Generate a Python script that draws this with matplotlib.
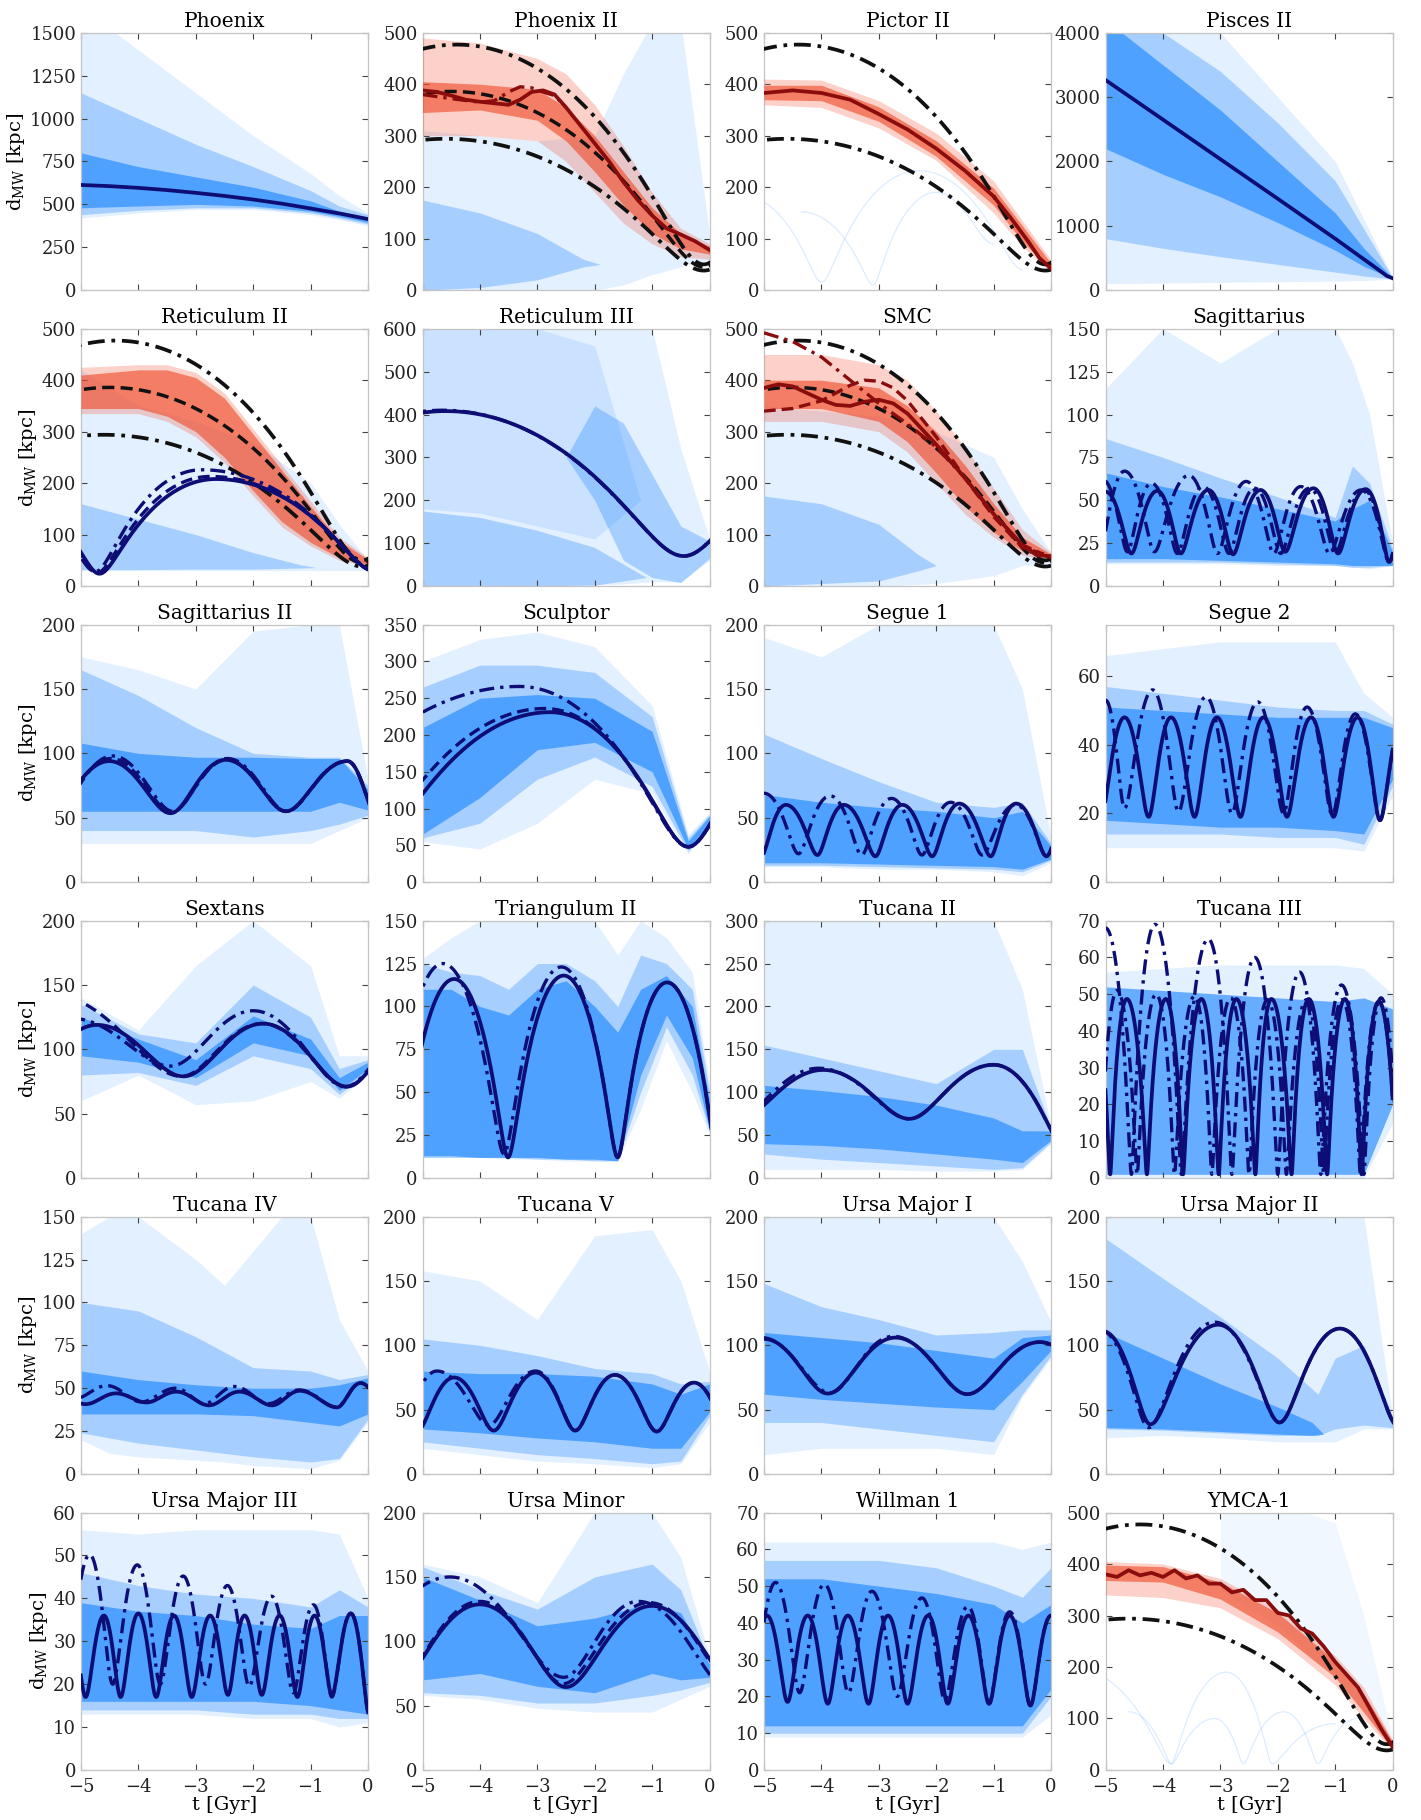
import numpy as np
import matplotlib
matplotlib.use("Agg")
import matplotlib.pyplot as plt

plt.rcParams.update({
    "font.family": ["DejaVu Serif"],
    "mathtext.fontset": "dejavuserif",
    "axes.unicode_minus": True,
})

NAVY = "#0d0d75"
BLUE = "#1a85ff"
RED = "#f04a28"
DRED = "#8a0c0c"
BLACK = "#111111"

BT = [-5, -4, -3, -2, -1, -0.5, 0]

# ---------------- shared LMC-like reference orbits (turning points: t [Gyr], d [kpc]) -------------
LMC_HI = [(-8.7, 50), (-4.4, 477), (-0.1, 50), (4.0, 470)]
LMC_LO = [(-9.0, 38), (-4.6, 294), (-0.1, 38), (4.0, 290)]
LMC_MID = [(-8.9, 45), (-4.5, 386), (-0.1, 45), (4.0, 380)]

# ---------------- Phoenix ----------------
PHX_T = [-5, -4.5, -4, -3.5, -3, -2.5, -2, -1.5, -1, -0.5, 0]
PHX_D = [613, 606, 596, 583, 567, 549, 528, 504, 476, 447, 414]
PHX_BANDS = [("b0", BT, [420, 450, 470, 470, 440, 410, 375], [1650, 1400, 1150, 900, 680, 550, 450]),
             ("b1", BT, [440, 465, 480, 480, 450, 420, 385], [1150, 1000, 850, 720, 580, 490, 440]),
             ("b2", BT, [480, 490, 500, 490, 460, 430, 395], [800, 720, 660, 600, 520, 460, 425])]

# ---------------- Phoenix II ----------------
PHX2_RT = [-5, -4, -3, -2.5, -2, -1.5, -1, -0.5, 0]
PHX2_BANDS = [("b0", [-5, -4, -3, -2, -1.5, -1, -0.5, 0], [0, 0, 0, 0, 10, 30, 45, 60], [310, 300, 290, 300, 420, 520, 520, 110]),
              ("b1", [-5, -4, -3, -2.2, -1.9], [0, 5, 20, 45, 50], [175, 150, 110, 60, 50]),
              ("r0", PHX2_RT, [300, 300, 290, 250, 190, 130, 90, 65, 60], [490, 480, 450, 420, 360, 280, 190, 120, 90]),
              ("r1", PHX2_RT, [345, 350, 330, 290, 230, 165, 110, 80, 70], [405, 400, 390, 355, 300, 230, 160, 110, 85])]
PHX2_RED_T = [-5, -4.75, -4.5, -4.25, -4, -3.75, -3.5, -3.3, -3.1, -2.9, -2.7, -2.5, -2.25, -2, -1.75, -1.5, -1.25, -1, -0.75, -0.5, -0.25, 0]
PHX2_RED_D = [388, 385, 378, 370, 366, 363, 360, 370, 385, 388, 380, 355, 320, 285, 250, 210, 175, 145, 120, 108, 95, 78]
PHX2_REDDD_T = [-5, -4.5, -4, -3.75, -3.5, -3.3, -3.1, -2.9, -2.7, -2.5]
PHX2_REDDD_D = [380, 372, 365, 368, 385, 395, 393, 385, 378, 355]

# ---------------- Pictor II ----------------
PIC_BANDS = [("r0", BT, [360, 355, 315, 252, 150, 85, 35], [410, 408, 368, 305, 212, 135, 58]),
             ("r1", BT, [370, 368, 328, 260, 165, 95, 38], [398, 398, 356, 290, 198, 125, 52])]
PIC_RED_T = [-5, -4.5, -4, -3.5, -3, -2.5, -2, -1.5, -1, -0.7, -0.4, -0.2, 0]
PIC_RED_D = [383, 388, 383, 370, 342, 312, 275, 232, 182, 140, 95, 62, 42]
PIC_FAINT_A = [(-5.4, 185), (-4.0, 15), (-2.3, 232), (-0.5, 40)]
PIC_FAINT_B = [(-4.35, 152), (-3.1, 10), (-2.0, 190), (-1.0, 90)]

# ---------------- Pisces II ----------------
PSC_T = [-5, -4, -3, -2, -1, -0.5, -0.25, -0.1, 0]
PSC_D = [3265, 2650, 2035, 1420, 800, 480, 320, 220, 185]
PSC_BANDS = [("b0", BT, [100, 110, 120, 130, 140, 150, 170], [6000, 5000, 4000, 3000, 2000, 1100, 200]),
             ("b1", BT, [800, 650, 520, 400, 280, 220, 175], [4500, 4000, 3400, 2600, 1700, 950, 195]),
             ("b2", BT, [2200, 1800, 1450, 1050, 620, 370, 180], [4200, 3500, 2800, 2000, 1200, 650, 192])]

# ---------------- Reticulum II ----------------
RET2_RT = [-5, -4, -3.5, -3, -2.5, -2, -1.5, -1, -0.5, 0]
RET2_BANDS = [("b0", BT, [30, 30, 30, 30, 30, 30, 30], [420, 350, 320, 280, 200, 120, 50]),
              ("b1", [-5, -4, -3, -2, -1.2, -0.9], [32, 32, 33, 33, 35, 36], [160, 130, 100, 65, 42, 36]),
              ("r0", RET2_RT, [335, 335, 320, 290, 240, 175, 115, 78, 50, 40], [425, 430, 430, 415, 375, 305, 235, 165, 95, 55]),
              ("r1", RET2_RT, [345, 345, 330, 300, 250, 185, 125, 85, 55, 42], [410, 420, 420, 405, 365, 295, 225, 155, 88, 52])]
RET2_MAIN = [(-6.6, 208), (-4.68, 24), (-2.65, 208), (0.1, 30)]
RET2_DD = [(-6.8, 225), (-4.75, 28), (-2.9, 226), (0.1, 30)]
RET2_DASH = [(-6.7, 213), (-4.72, 26), (-2.75, 213), (0.1, 30)]

# ---------------- Reticulum III ----------------
RET3_BANDS = [("b0", [-5, -3, -1.5, -1, -0.5, 0], [0, 0, 5, 10, 10, 60], [650, 650, 650, 600, 320, 110]),
              ("b0", [-5, -4, -3, -2, -1.2], [180, 170, 140, 110, 200], [600, 600, 600, 560, 200]),
              ("b1", [-2.5, -2, -1.5, -1, -0.5, 0], [300, 200, 60, 20, 8, 65], [300, 420, 380, 260, 140, 105]),
              ("b1", [-5, -4, -3, -2, -1.1], [0, 0, 0, 2, 20], [175, 160, 130, 90, 20])]
RET3_MAIN = [(-8.6, 70), (-4.6, 408), (-0.45, 70), (3.5, 400)]
RET3_DD = [(-8.7, 70), (-4.65, 410), (-0.45, 70), (3.5, 400)]

# ---------------- SMC ----------------
SMC_RT = [-5, -4, -3, -2.5, -2, -1.5, -1, -0.5, 0]
SMC_BANDS = [("b0", BT, [0, 0, 0, 5, 20, 40, 45], [350, 340, 330, 300, 250, 150, 65]),
             ("b1", [-5, -4, -3, -2.3, -2.0], [0, 5, 10, 30, 40], [175, 160, 120, 60, 40]),
             ("r0", SMC_RT, [320, 320, 300, 260, 200, 140, 95, 60, 50], [450, 450, 430, 400, 340, 270, 190, 110, 65]),
             ("r1", SMC_RT, [345, 345, 320, 280, 220, 155, 105, 68, 52], [400, 400, 385, 350, 300, 235, 160, 95, 62])]
SMC_RED_T = [-5, -4.75, -4.5, -4.25, -4, -3.75, -3.5, -3.25, -3, -2.75, -2.5, -2.25, -2, -1.5, -1, -0.5, -0.25, 0]
SMC_RED_D = [385, 392, 388, 375, 362, 352, 350, 358, 362, 355, 335, 305, 275, 210, 140, 80, 60, 58]
SMC_REDDASH_T = [-5, -4.5, -4, -3.5, -3.25, -3, -2.75, -2.5, -2, -1.5, -1, -0.5, 0]
SMC_REDDASH_D = [340, 345, 360, 390, 400, 398, 385, 360, 290, 210, 135, 75, 58]
SMC_REDDD_T = [-5, -4.5, -4, -3.5, -3, -2.5, -2, -1.5, -1, -0.5, 0]
SMC_REDDD_D = [492, 475, 445, 400, 355, 315, 270, 210, 140, 80, 55]

# ---------------- Sagittarius ----------------
SGR_BT = [-5, -4, -3, -2, -1, -0.7, -0.4, 0]
SGR_BANDS = [("b0", SGR_BT, [13, 13, 13, 12, 12, 11, 10, 12], [115, 150, 130, 150, 150, 130, 100, 25]),
             ("b1", SGR_BT, [14, 14, 14, 13, 12, 11, 11, 12], [86, 75, 63, 52, 40, 70, 60, 22]),
             ("b2", SGR_BT, [16, 16, 15, 14, 13, 12, 12, 12], [66, 58, 52, 45, 38, 45, 50, 20])]
SGR_MAIN = [(-5.0, 55), (-4.55, 19), (-4.1, 55.5), (-3.69, 19), (-3.21, 56), (-2.78, 18.5), (-2.3, 56),
            (-1.87, 20), (-1.38, 57), (-0.95, 19), (-0.47, 56.5), (-0.06, 14), (0.35, 50)]
SGR_DD1 = [(-5.1, 20), (-4.67, 67), (-4.15, 20), (-3.55, 64.5), (-3.05, 19), (-2.55, 61), (-2.07, 19),
           (-1.6, 58), (-1.1, 19), (-0.55, 56), (-0.06, 14), (0.35, 50)]
SGR_DD2 = [(-5.05, 62), (-4.62, 20), (-4.2, 60), (-3.75, 19), (-3.3, 58), (-2.85, 19), (-2.4, 57),
           (-1.95, 19), (-1.45, 57), (-1.0, 19), (-0.5, 56), (-0.06, 14), (0.35, 50)]

# ---------------- Sagittarius II ----------------
SGR2_BANDS = [("b0", BT, [30, 30, 30, 30, 30, 40, 50], [175, 165, 150, 195, 200, 200, 80]),
              ("b1", BT, [40, 40, 40, 35, 40, 45, 52], [165, 145, 120, 100, 97, 97, 75]),
              ("b2", BT, [55, 55, 55, 55, 55, 62, 56], [108, 100, 97, 97, 96, 96, 72])]
SGR2_MAIN = [(-5.55, 54), (-4.51, 94), (-3.44, 53.5), (-2.48, 95), (-1.43, 55), (-0.36, 94), (0.15, 52)]
SGR2_DD = [(-5.45, 55), (-4.45, 98), (-3.4, 55), (-2.45, 96), (-1.42, 55), (-0.36, 94), (0.15, 52)]
SGR2_DASH = [(-5.5, 55), (-4.48, 96), (-3.42, 54), (-2.46, 95), (-1.43, 55), (-0.36, 94), (0.15, 52)]

# ---------------- Sculptor ----------------
SCL_BT = [-5, -4, -3, -2, -1, -0.37, 0]
SCL_BANDS = [("b0", SCL_BT, [55, 45, 80, 140, 120, 38, 75], [300, 330, 340, 320, 240, 65, 95]),
             ("b1", SCL_BT, [60, 80, 140, 170, 130, 42, 78], [265, 295, 295, 285, 225, 60, 92]),
             ("b2", SCL_BT, [65, 115, 180, 190, 150, 45, 80], [210, 250, 255, 250, 205, 56, 90])]
SCL_MAIN = [(-5.9, 48), (-2.78, 231), (-0.37, 48), (2.0, 230)]
SCL_DASH = [(-6.1, 48), (-2.87, 236), (-0.37, 48), (2.0, 230)]
SCL_DD = [(-7.8, 48), (-3.31, 266), (-0.37, 48), (2.0, 230)]

# ---------------- Segue 1 ----------------
SEG1_BANDS = [("b0", BT, [12, 12, 10, 10, 8, 5, 15], [190, 175, 200, 200, 200, 150, 35]),
              ("b1", BT, [13, 13, 12, 11, 10, 8, 17], [115, 96, 78, 62, 58, 62, 30]),
              ("b2", BT, [15, 15, 14, 13, 12, 10, 18], [68, 62, 58, 55, 50, 55, 28])]
SEG1_MAIN = [(-5.05, 20), (-4.62, 60), (-4.07, 21), (-3.61, 60), (-3.06, 20), (-2.59, 60), (-2.07, 20),
             (-1.6, 61), (-1.05, 20), (-0.61, 61), (-0.08, 20), (0.4, 60)]
SEG1_DD = [(-5.5, 22), (-5.0, 69), (-4.4, 22), (-3.85, 67), (-3.3, 21), (-2.78, 65), (-2.25, 21),
           (-1.75, 62), (-1.2, 21), (-0.62, 60), (-0.08, 20), (0.4, 60)]

# ---------------- Segue 2 ----------------
SEG2_BANDS = [("b0", BT, [10, 10, 10, 10, 10, 9, 25], [66, 68, 70, 70, 70, 55, 48]),
              ("b1", BT, [14, 14, 14, 13, 13, 11, 28], [57, 55, 53, 51, 50, 50, 46]),
              ("b2", BT, [18, 17, 16, 16, 15, 14, 30], [51, 50, 49, 48, 48, 48, 45])]
SEG2_MAIN = [(-5.08, 19), (-4.67, 48), (-4.25, 19), (-3.86, 48), (-3.45, 19), (-3.06, 48), (-2.65, 19),
             (-2.25, 48), (-1.84, 19), (-1.42, 48), (-1.03, 19), (-0.61, 48), (-0.22, 18), (0.2, 48)]
SEG2_DD = [(-5.4, 21), (-5.0, 53), (-4.67, 21.5), (-4.18, 56), (-3.73, 20.5), (-3.25, 54), (-2.8, 20),
           (-2.35, 52.5), (-1.9, 20), (-1.49, 51), (-1.05, 19.5), (-0.65, 49), (-0.22, 18), (0.2, 48)]

# ---------------- Sextans ----------------
SEX_BANDS = [("b0", BT, [60, 80, 57, 60, 75, 62, 80], [140, 115, 165, 200, 165, 95, 95]),
             ("b1", BT, [80, 82, 72, 95, 85, 65, 82], [135, 112, 105, 150, 125, 85, 92]),
             ("b2", BT, [95, 90, 78, 105, 95, 68, 85], [125, 108, 92, 126, 108, 78, 90])]
SEX_MAIN = [(-6.1, 75), (-4.72, 119), (-3.21, 79), (-1.83, 120), (-0.37, 71), (1.0, 122)]
SEX_DD = [(-6.6, 80), (-5.15, 124), (-3.44, 87), (-2.0, 130), (-0.4, 71), (1.0, 122)]
SEX_DASH = [(-5.5, 142), (-3.25, 79), (-1.85, 120), (-0.37, 71), (1.0, 122)]

# ---------------- Triangulum II ----------------
TRI_BT = [-5, -4.5, -4, -3.5, -3, -2.5, -2, -1.6, -1.2, -0.75, -0.3, 0]
TRI_BANDS = [("b0", TRI_BT, [12, 12, 12, 11, 11, 10, 10, 10, 40, 80, 50, 25], [128, 140, 150, 150, 150, 150, 150, 130, 150, 140, 120, 55]),
             ("b1", TRI_BT, [12, 12, 12, 12, 11, 11, 10, 10, 50, 88, 60, 27], [125, 120, 118, 110, 125, 125, 115, 100, 130, 125, 110, 50]),
             ("b2", TRI_BT, [13, 13, 12, 12, 12, 11, 11, 10, 60, 95, 70, 28], [110, 110, 100, 95, 110, 115, 100, 85, 110, 118, 100, 45])]
TRI_MAIN = [(-5.4, 12), (-4.45, 116), (-3.51, 12), (-2.54, 118), (-1.6, 12), (-0.74, 114), (0.15, 12)]
TRI_DD = [(-5.65, 14), (-4.65, 125), (-3.58, 14), (-2.58, 123), (-1.6, 12), (-0.74, 114), (0.15, 12)]

# ---------------- Tucana II ----------------
TUC2_BANDS = [("b0", BT, [10, 10, 10, 8, 8, 10, 40], [300, 300, 300, 300, 300, 220, 60]),
              ("b1", BT, [28, 22, 18, 14, 10, 12, 42], [155, 140, 125, 110, 150, 150, 58]),
              ("b2", BT, [40, 38, 34, 28, 22, 18, 44], [108, 102, 95, 85, 70, 55, 55])]
TUC2_MAIN = [(-5.45, 68), (-3.97, 126), (-2.47, 69), (-1.0, 132), (0.25, 35)]
TUC2_DD = [(-5.5, 68), (-4.05, 128), (-2.47, 69), (-1.0, 132), (0.25, 35)]

# ---------------- Tucana III ----------------
TUC3_BANDS = [("b0", BT, [0, 0, 0, 0, 0, 0, 15], [56, 57, 58, 58, 58, 57, 50]),
              ("b2", BT, [1, 1, 1, 1, 1, 1, 20], [52, 51, 50, 49, 48, 49, 46])]
TUC3_MAIN = [(-5.22, 48.7), (-4.92, 1), (-4.63, 48.7), (-4.28, 1), (-3.95, 48.7), (-3.65, 1), (-3.33, 48.7),
             (-3.03, 1), (-2.72, 48.7), (-2.39, 1), (-2.11, 48.7), (-1.76, 1), (-1.46, 48.7), (-1.14, 1),
             (-0.83, 48.7), (-0.54, 1), (-0.24, 48), (0.08, 1)]
TUC3_DD1 = [(-5.3, 1), (-5.0, 68), (-4.55, 1), (-4.14, 69), (-3.68, 1), (-3.21, 65), (-2.8, 1), (-2.4, 60),
            (-2.0, 1), (-1.62, 56), (-1.25, 1), (-0.89, 52.5), (-0.5, 1), (-0.2, 49), (0.1, 1)]
TUC3_DD2 = [(-5.1, 1), (-4.8, 51), (-4.45, 1), (-4.12, 50), (-3.8, 1), (-3.45, 49.5), (-3.15, 1), (-2.82, 49),
            (-2.5, 1), (-2.18, 48.5), (-1.85, 1), (-1.5, 48.5), (-1.2, 1), (-0.88, 48.5), (-0.56, 1), (-0.24, 48), (0.08, 1)]

# ---------------- Tucana IV ----------------
TUC4_BT = [-5, -4.5, -4, -3, -2.5, -2, -1.5, -1, -0.5, 0]
TUC4_BANDS = [("b0", TUC4_BT, [20, 12, 10, 8, 7, 5, 4, 3, 8, 30], [140, 150, 150, 125, 110, 130, 150, 150, 90, 60]),
              ("b1", BT, [24, 18, 14, 10, 7, 9, 32], [100, 95, 80, 62, 60, 55, 58]),
              ("b2", BT, [35, 35, 35, 34, 30, 28, 35], [60, 55, 52, 50, 50, 52, 56])]
TUC4_MAIN = [(-5.45, 47), (-4.92, 40.7), (-4.39, 47), (-3.86, 41.7), (-3.34, 48), (-2.77, 40), (-2.24, 48),
             (-1.67, 40), (-1.19, 48.5), (-0.54, 38.8), (-0.13, 53), (0.3, 40)]
TUC4_DD = [(-5.1, 44), (-4.55, 51.5), (-3.95, 42), (-3.35, 50), (-2.85, 41), (-2.33, 51), (-1.73, 41),
           (-1.2, 49), (-0.54, 39), (-0.13, 53), (0.3, 40)]

# ---------------- Tucana V ----------------
TUC5_BANDS = [("b0", BT, [20, 15, 10, 8, 5, 8, 40], [158, 150, 120, 185, 190, 150, 80]),
              ("b1", BT, [25, 20, 15, 12, 8, 10, 45], [105, 100, 92, 82, 78, 70, 72]),
              ("b2", BT, [35, 32, 28, 25, 20, 20, 48], [80, 78, 78, 76, 70, 62, 70])]
TUC5_MAIN = [(-5.1, 33), (-4.45, 75), (-3.76, 33.7), (-3.03, 78.8), (-2.34, 33.7), (-1.65, 77), (-0.92, 33),
             (-0.27, 71), (0.35, 33)]
TUC5_DD = [(-5.4, 38), (-4.75, 80), (-3.84, 38), (-3.03, 80), (-2.34, 34), (-1.65, 77), (-0.92, 33),
           (-0.27, 71), (0.35, 33)]

# ---------------- Ursa Major I ----------------
UMA1_BANDS = [("b0", BT, [15, 20, 20, 20, 15, 60, 90], [200, 200, 200, 200, 200, 165, 118]),
              ("b1", BT, [40, 40, 35, 30, 25, 62, 92], [148, 130, 120, 108, 110, 112, 112]),
              ("b2", BT, [62, 58, 55, 52, 50, 72, 96], [110, 106, 102, 96, 90, 106, 108])]
UMA1_MAIN = [(-5.0, 105), (-3.89, 62.5), (-2.71, 106), (-1.46, 62), (-0.2, 102.5), (1.0, 62)]
UMA1_DD = [(-5.05, 106), (-3.85, 63), (-2.75, 107), (-1.46, 62), (-0.2, 102.5), (1.0, 62)]

# ---------------- Ursa Major II ----------------
UMA2_BT = [-5, -4, -3, -2, -1.3, -1, -0.5, 0]
UMA2_BANDS = [("b0", BT, [28, 30, 28, 25, 25, 35, 35], [200, 200, 200, 200, 200, 200, 45]),
              ("b1", UMA2_BT, [35, 34, 32, 30, 30, 35, 38, 36], [183, 152, 122, 90, 62, 90, 100, 45]),
              ("b2", [-5, -4, -3, -2, -1.4, -1.2], [36, 35, 33, 31, 30, 31], [110, 90, 70, 52, 40, 31])]
UMA2_MAIN = [(-5.05, 111), (-4.22, 38.6), (-3.04, 116), (-1.97, 40), (-0.92, 113), (0.1, 37)]
UMA2_DD = [(-5.1, 112), (-4.25, 36), (-3.1, 118), (-1.97, 40), (-0.92, 113), (0.1, 37)]

# ---------------- Ursa Major III ----------------
UMA3_BANDS = [("b0", BT, [13, 13, 13, 12, 12, 10, 11], [56, 55, 56, 56, 56, 55, 40]),
              ("b1", BT, [14, 14, 14, 13, 13, 12, 12], [46, 43, 41, 40, 38, 42, 38]),
              ("b2", BT, [16, 16, 16, 16, 15, 14, 13], [39, 37, 36, 34, 33, 36, 36])]
UMA3_MAIN = [(-5.22, 36), (-4.92, 17), (-4.6, 36), (-4.31, 17), (-4.0, 36.5), (-3.69, 17), (-3.38, 36),
             (-3.07, 17), (-2.75, 36), (-2.44, 17.5), (-2.15, 36), (-1.85, 17.5), (-1.54, 36), (-1.23, 17),
             (-0.93, 36), (-0.63, 17.5), (-0.3, 36.5), (0.02, 13)]
UMA3_DD = [(-5.25, 25), (-4.85, 50.2), (-4.45, 20), (-4.02, 47.8), (-3.62, 20), (-3.22, 45.2), (-2.83, 20),
           (-2.45, 43), (-2.07, 19.5), (-1.68, 40.5), (-1.3, 18), (-0.95, 38.5), (-0.63, 17), (-0.3, 36.5), (0.02, 13)]

# ---------------- Ursa Minor ----------------
UMI_BANDS = [("b0", BT, [58, 55, 48, 45, 45, 55, 65], [160, 150, 130, 200, 200, 165, 88]),
             ("b1", BT, [60, 58, 52, 52, 58, 62, 68], [158, 140, 125, 150, 160, 140, 84]),
             ("b2", BT, [70, 75, 65, 60, 75, 70, 72], [150, 132, 112, 118, 130, 122, 82])]
UMI_MAIN = [(-5.5, 64), (-4.0, 128.7), (-2.5, 64.4), (-1.0, 127.5), (0.5, 64)]
UMI_DD = [(-6.5, 72), (-4.53, 150), (-2.54, 72), (-1.24, 131), (0.3, 65)]
UMI_DASH = [(-5.5, 65), (-4.0, 131), (-2.55, 67), (-1.05, 130), (0.45, 65)]

# ---------------- Willman 1 ----------------
WIL_BANDS = [("b0", BT, [9, 9, 9, 9, 9, 9, 15], [62, 62, 62, 62, 62, 60, 62]),
             ("b1", BT, [10, 10, 10, 10, 10, 10, 20], [57, 57, 57, 55, 50, 47, 55]),
             ("b2", BT, [12, 12, 12, 12, 12, 12, 22], [52, 52, 50, 48, 45, 40, 45])]
WIL_MAIN = [(-5.3, 18), (-4.95, 42), (-4.59, 18.5), (-4.24, 42), (-3.89, 18), (-3.54, 42), (-3.18, 18),
            (-2.84, 42), (-2.5, 18), (-2.14, 42), (-1.8, 18), (-1.44, 42), (-1.08, 18), (-0.72, 42),
            (-0.36, 17.5), (0.0, 42)]
WIL_DD = [(-5.2, 21), (-4.8, 51), (-4.38, 21), (-3.95, 50.5), (-3.53, 21), (-3.12, 48.6), (-2.68, 20),
          (-2.25, 46.8), (-1.85, 19), (-1.45, 44.5), (-1.08, 18), (-0.72, 43), (-0.36, 17.5), (0.0, 42)]

# ---------------- YMCA-1 ----------------
YMCA_BANDS = [("b00", [-3, -2, -1, -0.5, 0], [350, 280, 180, 110, 45], [500, 520, 480, 300, 60]),
              ("r0", BT, [340, 335, 315, 255, 165, 100, 38], [405, 400, 372, 312, 222, 160, 58]),
              ("r1", BT, [368, 365, 332, 268, 180, 112, 40], [398, 395, 365, 305, 212, 148, 55])]
YMCA_RED_T = [-5, -4.8, -4.6, -4.4, -4.2, -4.0, -3.8, -3.6, -3.4, -3.2, -3.0, -2.8, -2.6, -2.4, -2.2, -2.0,
              -1.8, -1.6, -1.4, -1.2, -1.0, -0.8, -0.6, -0.4, -0.2, 0]
YMCA_RED_D = [380, 375, 388, 378, 383, 375, 388, 372, 378, 362, 362, 345, 350, 330, 330, 305, 300, 275,
              265, 240, 210, 185, 160, 120, 80, 45]
YMCA_FAINT_A = [(-5.6, 200), (-3.86, 12), (-2.9, 190), (-2.1, 12), (-1.0, 90)]
YMCA_FAINT_B = [(-4.6, 113), (-3.85, 12), (-3.1, 100), (-2.6, 12), (-1.9, 113), (-1.3, 12), (-0.6, 100)]

TITLES = ["Phoenix", "Phoenix II", "Pictor II", "Pisces II",
          "Reticulum II", "Reticulum III", "SMC", "Sagittarius",
          "Sagittarius II", "Sculptor", "Segue 1", "Segue 2",
          "Sextans", "Triangulum II", "Tucana II", "Tucana III",
          "Tucana IV", "Tucana V", "Ursa Major I", "Ursa Major II",
          "Ursa Major III", "Ursa Minor", "Willman 1", "YMCA-1"]
YMAX = [1500, 500, 500, 4000, 500, 600, 500, 150, 200, 350, 200, 75,
        200, 150, 300, 70, 150, 200, 200, 200, 60, 200, 70, 500]
YSTEP = [250, 100, 100, 1000, 100, 100, 100, 25, 50, 50, 50, 20,
         50, 25, 50, 10, 25, 50, 50, 50, 10, 50, 10, 100]
XTICKS = [-5, -4, -3, -2, -1, 0]

LMC_SET = [("k_dd", "turn", LMC_HI), ("k_dd", "turn", LMC_LO)]

PANELS = [
    (PHX_BANDS, [("main", "pts", (PHX_T, PHX_D))]),
    (PHX2_BANDS, LMC_SET + [("k_dash", "turn", LMC_MID),
                            ("r_dd", "pts", (PHX2_REDDD_T, PHX2_REDDD_D)),
                            ("r_main", "pts", (PHX2_RED_T, PHX2_RED_D))]),
    (PIC_BANDS, [("faint", "turn", PIC_FAINT_A), ("faint", "turn", PIC_FAINT_B)] + LMC_SET +
     [("r_main", "pts", (PIC_RED_T, PIC_RED_D))]),
    (PSC_BANDS, [("main", "pts", (PSC_T, PSC_D))]),
    (RET2_BANDS, LMC_SET + [("k_dash", "turn", LMC_MID), ("dd", "turn", RET2_DD),
                            ("dash", "turn", RET2_DASH), ("main", "turn", RET2_MAIN)]),
    (RET3_BANDS, [("dd", "turn", RET3_DD), ("main", "turn", RET3_MAIN)]),
    (SMC_BANDS, LMC_SET + [("k_dash", "turn", LMC_MID),
                           ("r_dd", "pts", (SMC_REDDD_T, SMC_REDDD_D)),
                           ("r_dash", "pts", (SMC_REDDASH_T, SMC_REDDASH_D)),
                           ("r_main", "pts", (SMC_RED_T, SMC_RED_D))]),
    (SGR_BANDS, [("dd", "turn", SGR_DD1), ("dd", "turn", SGR_DD2), ("main", "turn", SGR_MAIN)]),
    (SGR2_BANDS, [("dd", "turn", SGR2_DD), ("dash", "turn", SGR2_DASH), ("main", "turn", SGR2_MAIN)]),
    (SCL_BANDS, [("dd", "turn", SCL_DD), ("dash", "turn", SCL_DASH), ("main", "turn", SCL_MAIN)]),
    (SEG1_BANDS, [("dd", "turn", SEG1_DD), ("main", "turn", SEG1_MAIN)]),
    (SEG2_BANDS, [("dd", "turn", SEG2_DD), ("main", "turn", SEG2_MAIN)]),
    (SEX_BANDS, [("dd", "turn", SEX_DD), ("dash", "turn", SEX_DASH), ("main", "turn", SEX_MAIN)]),
    (TRI_BANDS, [("dd", "turn", TRI_DD), ("main", "turn", TRI_MAIN)]),
    (TUC2_BANDS, [("dd", "turn", TUC2_DD), ("main", "turn", TUC2_MAIN)]),
    (TUC3_BANDS, [("dd", "turn", TUC3_DD1), ("dd", "turn", TUC3_DD2), ("main", "turn", TUC3_MAIN)]),
    (TUC4_BANDS, [("dd", "turn", TUC4_DD), ("main", "turn", TUC4_MAIN)]),
    (TUC5_BANDS, [("dd", "turn", TUC5_DD), ("main", "turn", TUC5_MAIN)]),
    (UMA1_BANDS, [("dd", "turn", UMA1_DD), ("main", "turn", UMA1_MAIN)]),
    (UMA2_BANDS, [("dd", "turn", UMA2_DD), ("main", "turn", UMA2_MAIN)]),
    (UMA3_BANDS, [("dd", "turn", UMA3_DD), ("main", "turn", UMA3_MAIN)]),
    (UMI_BANDS, [("dd", "turn", UMI_DD), ("dash", "turn", UMI_DASH), ("main", "turn", UMI_MAIN)]),
    (WIL_BANDS, [("dd", "turn", WIL_DD), ("main", "turn", WIL_MAIN)]),
    (YMCA_BANDS, [("faint", "turn", YMCA_FAINT_A), ("faint", "turn", YMCA_FAINT_B)] + LMC_SET +
     [("r_main", "pts", (YMCA_RED_T, YMCA_RED_D))]),
]

BAND_STYLE = {"b00": (BLUE, 0.06), "b0": (BLUE, 0.12), "b1": (BLUE, 0.30), "b2": (BLUE, 0.62),
              "r0": (RED, 0.25), "r1": (RED, 0.62)}
DD = (0, (4.5, 1.8, 1.0, 1.8))
LINE_STYLE = {
    "main": dict(color=NAVY, lw=2.7, ls="-", zorder=6),
    "dd": dict(color=NAVY, lw=2.4, ls=DD, zorder=5),
    "dash": dict(color=NAVY, lw=2.4, ls=(0, (3.5, 1.8)), zorder=5),
    "k_dd": dict(color=BLACK, lw=2.7, ls=DD, zorder=4),
    "k_dash": dict(color=BLACK, lw=2.5, ls=(0, (3.5, 1.8)), zorder=4),
    "r_main": dict(color=DRED, lw=2.7, ls="-", zorder=7),
    "r_dd": dict(color=DRED, lw=2.4, ls=DD, zorder=6),
    "r_dash": dict(color=DRED, lw=2.4, ls=(0, (3.5, 1.8)), zorder=6),
    "faint": dict(color=BLUE, lw=0.9, ls="-", alpha=0.15, zorder=2),
}


def turn_curve(turns, n=120):
    """Smooth radial-orbit path through alternating peri/apo turning points."""
    T, D = [], []
    for (t0, d0), (t1, d1) in zip(turns[:-1], turns[1:]):
        lo, hi = min(d0, d1), max(d0, d1)
        a = 0.5 * (lo + hi)
        e = (hi - lo) / (hi + lo) if hi + lo > 0 else 0.0
        k = 0.7 * e
        E = np.linspace(0, np.pi, n)
        frac = (E - k * np.sin(E)) / np.pi
        r = a * (1 - e * np.cos(E))
        if d0 <= d1:
            t = t0 + frac * (t1 - t0)
        else:
            t = t1 - frac * (t1 - t0)
            t, r = t[::-1], r[::-1]
        T.append(t)
        D.append(r)
    return np.concatenate(T), np.concatenate(D)


fig, axes = plt.subplots(6, 4, figsize=(14.21, 18.20), dpi=100)
fig.subplots_adjust(left=0.057, right=0.980, top=0.982, bottom=0.0275, wspace=0.19, hspace=0.15)

for i, (ax, (bands, curves)) in enumerate(zip(axes.flat, PANELS)):
    for kind, t, lo, hi in bands:
        col, al = BAND_STYLE[kind]
        ax.fill_between(t, lo, hi, color=col, alpha=al, lw=0, zorder=1 if kind[0] == "b" else 3)
    for style, geom, data in curves:
        if geom == "turn":
            t, d = turn_curve(data)
        else:
            t, d = data
        ax.plot(t, d, **LINE_STYLE[style])
    ax.set_xlim(-5, 0)
    ax.set_ylim(0, YMAX[i])
    ax.set_yticks(np.arange(0, YMAX[i] + 1e-9, YSTEP[i]))
    ax.set_xticks(XTICKS)
    ax.set_title(TITLES[i], fontsize=14.5, pad=4)
    ax.tick_params(direction="in", top=True, right=True, length=4, width=0.8,
                   colors="#444444", labelcolor="#222222", labelsize=13)
    ax.tick_params(axis="x", pad=6)
    for sp in ax.spines.values():
        sp.set_color("#c4c4c4")
        sp.set_linewidth(0.9)
    if i % 4 == 0:
        ax.set_ylabel(r"d$_\mathrm{MW}$ [kpc]", fontsize=14, labelpad=2)
    if i >= 20:
        ax.set_xlabel("t [Gyr]", fontsize=14, labelpad=0)
    else:
        ax.tick_params(labelbottom=False)

fig.savefig("out.png", dpi=100, facecolor="white")
